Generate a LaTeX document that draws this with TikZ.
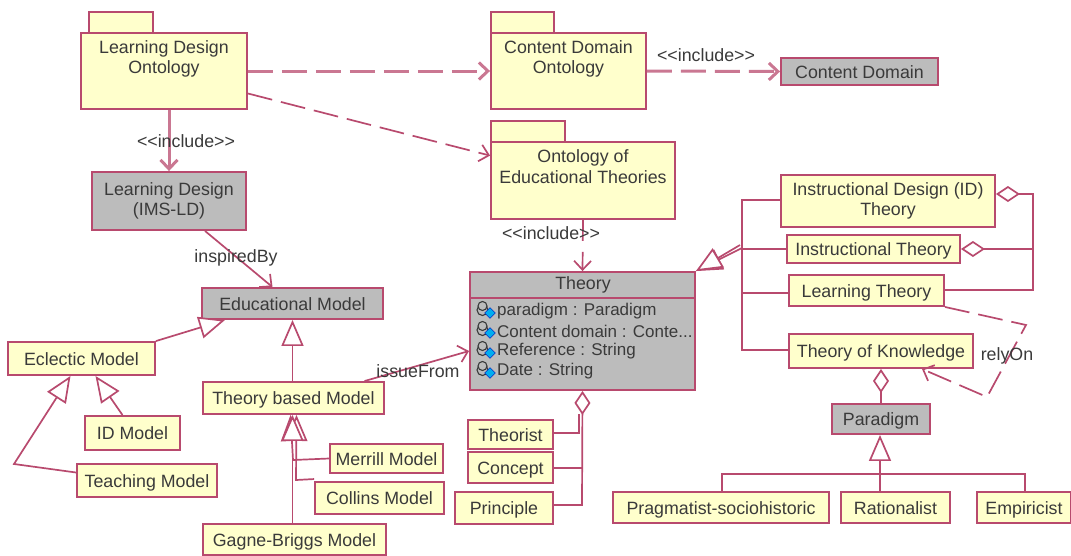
\documentclass[tikz,border=0pt]{standalone}
\usepackage{fontspec}
\setmainfont{Liberation Sans}
\usetikzlibrary{arrows.meta, calc, positioning, shapes.geometric}
\definecolor{umlline}{HTML}{B84A6E}
\definecolor{umlfill}{HTML}{FFFFCC}
\definecolor{umlgrey}{HTML}{BCBCBC}
\definecolor{umltext}{HTML}{3A3A3A}
\newcommand{\domainattr}{Content domain : Conte...}
\newcommand{\inclabel}{<{}<include>{}>}
\tikzset{
  textbox/.style={draw=umlline, fill=umlfill, line width=1.9pt, align=center, inner sep=0pt, text=umltext},
  classbox/.style={textbox, text height=13pt, text depth=0pt},
  greybox/.style={classbox, fill=umlgrey},
  pkgtab/.style={draw=umlline, fill=umlfill, line width=1.9pt, inner sep=0pt},
  link/.style={draw=umlline, line width=1.7pt},
  dep/.style={link, dash pattern=on 25pt off 9pt},
  depheavy/.style={dep, draw=umlline!75, line width=3pt},
  inh/.style={link, -{Triangle[open, length=26pt, width=22pt, fill=white]}},
  agg/.style={link, {Diamond[open, length=24pt, width=16pt, fill=white]}-},
  lbl/.style={text=umltext, inner sep=0pt},
}
\begin{document}
\begin{tikzpicture}[x=1pt, y=-1pt, >={Straight Barb[length=9pt, width=17pt]}, font=\fontsize{17.8}{20.5}\selectfont]
\useasboundingbox (0,0) rectangle (1071,555);
% packages
\node[pkgtab, minimum width=64, minimum height=21] (ldotab) at (121,22.5) {};
\node[textbox, minimum width=166, minimum height=76, text depth=28pt] (ldo) at (164,71) {Learning Design\\Ontology};
\node[pkgtab, minimum width=63, minimum height=21] (cdotab) at (522.5,22.5) {};
\node[textbox, minimum width=155, minimum height=76, text depth=28pt] (cdo) at (568.5,71) {Content Domain\\Ontology};
\node[pkgtab, minimum width=74, minimum height=21] (oettab) at (528,131.5) {};
\node[textbox, minimum width=184, minimum height=77, text depth=28pt] (oet) at (583,180.5) {Ontology of\\Educational Theories};
% grey classes
\node[greybox, minimum width=157, minimum height=27] (cd) at (859.5,71.5) {Content Domain};
\node[textbox, fill=umlgrey, minimum width=154, minimum height=58] (ld) at (169,201) {Learning Design\\(IMS-LD)};
\node[greybox, minimum width=181, minimum height=31] (edm) at (292.5,303.5) {Educational Model};
\node[greybox, minimum width=98, minimum height=30] (para) at (881,419) {Paradigm};
\node[textbox, fill=umlgrey, minimum width=225, minimum height=118] (theory) at (582.5,331) {};
\node[lbl] (theoryname) at (583,285) {Theory};
\coordinate (divider) at (0,298);
\draw[link] (theory.west |- divider) -- (theory.east |- divider);
\foreach \n/\y/\txt in {a/311/paradigm : Paradigm, b/331/\domainattr, c/351/Reference : String, d/371/Date : String}{
  \node[lbl, anchor=west, font=\fontsize{17}{20}\selectfont] (attr\n) at (497,\y) {\txt};
  \draw[umltext, line width=1.1pt, fill=umlgrey] (482.5,\y-1) circle (5.5pt);
  \draw[umltext, line width=1.1pt, fill=umlgrey] (482.5,\y-5) circle (4.5pt);
  \node[draw=blue!70!black, fill=cyan, diamond, inner sep=0pt, minimum width=11pt, minimum height=11pt] (icon\n) at (490,\y+2) {};
}
% model classes
\node[classbox, minimum width=147, minimum height=33] (ecl) at (81.5,358.5) {Eclectic Model};
\node[classbox, minimum width=181, minimum height=32] (tbm) at (293.5,398) {Theory based Model};
\node[classbox, minimum width=95, minimum height=34] (idm) at (132.5,433) {ID Model};
\node[classbox, minimum width=140, minimum height=33] (tch) at (147,480.5) {Teaching Model};
\node[classbox, minimum width=113, minimum height=29] (mer) at (386.5,458.5) {Merrill Model};
\node[classbox, minimum width=129, minimum height=32] (col) at (379.5,498) {Collins Model};
\node[classbox, minimum width=183, minimum height=31] (gag) at (294.5,539.5) {Gagne-Briggs Model};
% parts of theory
\node[classbox, minimum width=85, minimum height=29] (tist) at (510.5,434.5) {Theorist};
\node[classbox, minimum width=85, minimum height=31] (conc) at (510.5,467.5) {Concept};
\node[classbox, minimum width=98, minimum height=32] (prin) at (504,508) {Principle};
% theory kinds
\node[textbox, minimum width=214, minimum height=52] (idt) at (888,201) {Instructional Design (ID)\\Theory};
\node[classbox, minimum width=173, minimum height=28] (inst) at (873.5,249) {Instructional Theory};
\node[classbox, minimum width=155, minimum height=31] (lrn) at (866.5,290.5) {Learning Theory};
\node[classbox, minimum width=184, minimum height=34] (tok) at (881,351) {Theory of Knowledge};
% paradigm kinds
\node[classbox, minimum width=216, minimum height=31] (prag) at (721,507.5) {Pragmatist-sociohistoric};
\node[classbox, minimum width=109, minimum height=31] (rat) at (895.5,507.5) {Rationalist};
\node[classbox, minimum width=94, minimum height=31] (emp) at (1024,507.5) {Empiricist};
% dependencies
\draw[depheavy, ->] (ldo.east) -- (cdo.west);
\draw[depheavy, ->] (cdo.east) -- (cd.west);
\draw[dep, ->] (ldo.-15) -- (oet.165);
\draw[link, draw=umlline!75, line width=3pt, ->] (ld.north |- ldo.south) -- (ld.north);
\draw[link, dash pattern=on 21pt off 11pt, ->] (oet.south) -- (theory.north);
\draw[link, ->] ($(ld.south)+(36,0)$) -- ($(edm.north)+(-20,0)$);
\draw[link, ->] ($(tbm.north)+(71,0)$) -- ($(theory.west)+(0,20)$);
\coordinate (rely1) at (1026,325);
\coordinate (rely2) at (987,397);
\draw[dep, ->] (lrn.south east) -- (rely1) -- (rely2) -- ($(tok.south)+(41,0)$);
% generalisations
\draw[inh] (edm.south |- tbm.north) -- (edm.south);
\draw[inh] (ecl.north east) -- ($(edm.south west)+(24,0)$);
\draw[inh] ($(idm.north)+(-10,0)$) -- ($(ecl.south)+(14,0)$);
\coordinate (tchbend) at (14,464);
\draw[inh] ($(tch.west)+(0,-8)$) -- (tchbend) -- ($(ecl.south)+(-11,0)$);
\coordinate (merbend) at (293,460);
\coordinate (colbend) at (296,480);
\draw[inh] (mer.west) -- (merbend) -- ($(tbm.south)+(-3,0)$);
\draw[inh] ($(col.north west)+(0,-2)$) -- (colbend) -- ($(tbm.south)+(3,0)$);
\draw[inh] ($(gag.north)+(-2,0)$) -- ($(tbm.south)+(-1,0)$);
\coordinate (trunktop) at (742,200);
\coordinate (trunkmid) at (742,248);
\coordinate (trunkbot) at (742,350);
\coordinate (trunklrn) at (742,293);
\draw[link] (idt.west |- trunktop) -- (trunktop) -- (trunkbot) -- (tok.west |- trunkbot);
\draw[link] (inst.west) -- (inst.west -| trunkmid);
\draw[link] (lrn.west |- trunklrn) -- (trunklrn);
\draw[inh] (trunkmid) -- (theory.north east);
\draw[inh] ($(trunkmid)+(-2,-3)$) -- (theory.north east);
\coordinate (hierl) at (722,474);
\coordinate (hierr) at (1025,474);
\draw[inh] ($(rat.north -| para.south)+(-1,0)$) -- ($(para.south)+(-1,0)$);
\draw[link] (prag.north -| hierl) -- (hierl) -- (hierr) -- (emp.north -| hierr);
% aggregations
\coordinate (aggtop) at (1033,194);
\coordinate (aggbot) at (1033,290);
\draw[agg] (idt.east |- aggtop) -- (aggtop) -- (aggbot) -- (lrn.east |- aggbot);
\draw[agg] (inst.east) -- (aggtop |- inst.east);
\draw[agg] (tok.south) -- (para.north -| tok.south);
\coordinate (partbot) at (582,505);
\coordinate (partbend) at (579,433);
\coordinate (parttop) at (579,414);
\draw[agg] (theory.south) -- (partbot) -- (prin.east |- partbot);
\draw[link] ($(conc.east)+(0,0.4)$) -- ($(conc.east -| partbot)+(0,0.4)$);
\draw[link] (tist.east |- partbend) -- (partbend) -- (parttop);
% labels
\node[lbl] (incl1) at (186,141) {\inclabel};
\node[lbl] (incl2) at (551,233) {\inclabel};
\node[lbl] (incl3) at (706,55) {\inclabel};
\node[lbl] (insp) at (236,258) {inspiredBy};
\node[lbl] (issue) at (418,371) {issueFrom};
\node[lbl] (rely) at (1007,356) {relyOn};
\end{tikzpicture}
\end{document}
